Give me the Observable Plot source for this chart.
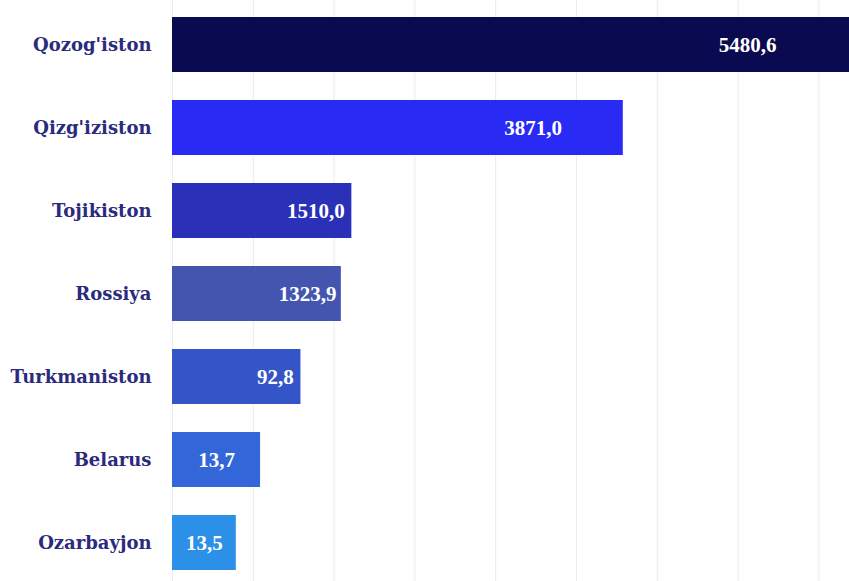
<!DOCTYPE html>
<html>
<head>
<meta charset="utf-8">
<script src="https://cdn.jsdelivr.net/npm/d3@7"></script>
<script src="https://cdn.jsdelivr.net/npm/@observablehq/plot@0.6"></script>
<style>
  html, body { margin: 0; padding: 0; background: #fff; overflow: hidden; }
  #chart svg { display: block; }
</style>
</head>
<body>
<div id="chart"></div>
<script>
// Categories (top to bottom)
const countries = ["Qozog'iston", "Qizg'iziston", "Tojikiston", "Rossiya", "Turkmaniston", "Belarus", "Ozarbayjon"];
// Printed values (labels)
const labels = ["5480,6", "3871,0", "1510,0", "1323,9", "92,8", "13,7", "13,5"];
// Bar lengths as drawn (in gridline units)
const barValues = [8.9, 5.58, 2.22, 2.09, 1.59, 1.09, 0.79];
// Bar colours
const palette = ["#0a0a50", "#2a2af5", "#2a30b8", "#4455b0", "#3355c8", "#3366d8", "#2d90e8"];
// Gridline ticks
const gridTicks = [0, 1, 2, 3, 4, 5, 6, 7, 8];

const data = countries.map((c, i) => ({
  country: c,
  label: labels[i],
  value: barValues[i],
  color: palette[i],
  labelX: barValues[i] < 1.2 ? barValues[i] / 2 : barValues[i] * 0.8
}));

const chart = Plot.plot({
  width: 849,
  height: 587,
  marginLeft: 172,
  marginRight: 0,
  marginTop: 0,
  marginBottom: 0,
  style: { background: "#fff" },
  x: { domain: [0, 8.38], axis: null },
  y: { domain: countries, axis: null, paddingInner: 0.34, paddingOuter: 0.196 },
  marks: [
    Plot.ruleX(gridTicks, { stroke: "#ebebeb", strokeWidth: 1 }),
    Plot.barX(data, { x: "value", y: "country", fill: "color", clip: true }),
    Plot.text(data, {
      x: "labelX", y: "country", text: "label",
      fill: "#fff", fontSize: 21, fontWeight: "bold",
      fontFamily: "Liberation Serif, serif", textAnchor: "middle"
    }),
    Plot.text(data, {
      x: 0, y: "country", text: "country",
      dx: -21, textAnchor: "end",
      fill: "#2b2a7c", fontSize: 18, fontWeight: "bold",
      fontFamily: "DejaVu Serif, serif"
    })
  ]
});
document.getElementById("chart").append(chart);
</script>
</body>
</html>
